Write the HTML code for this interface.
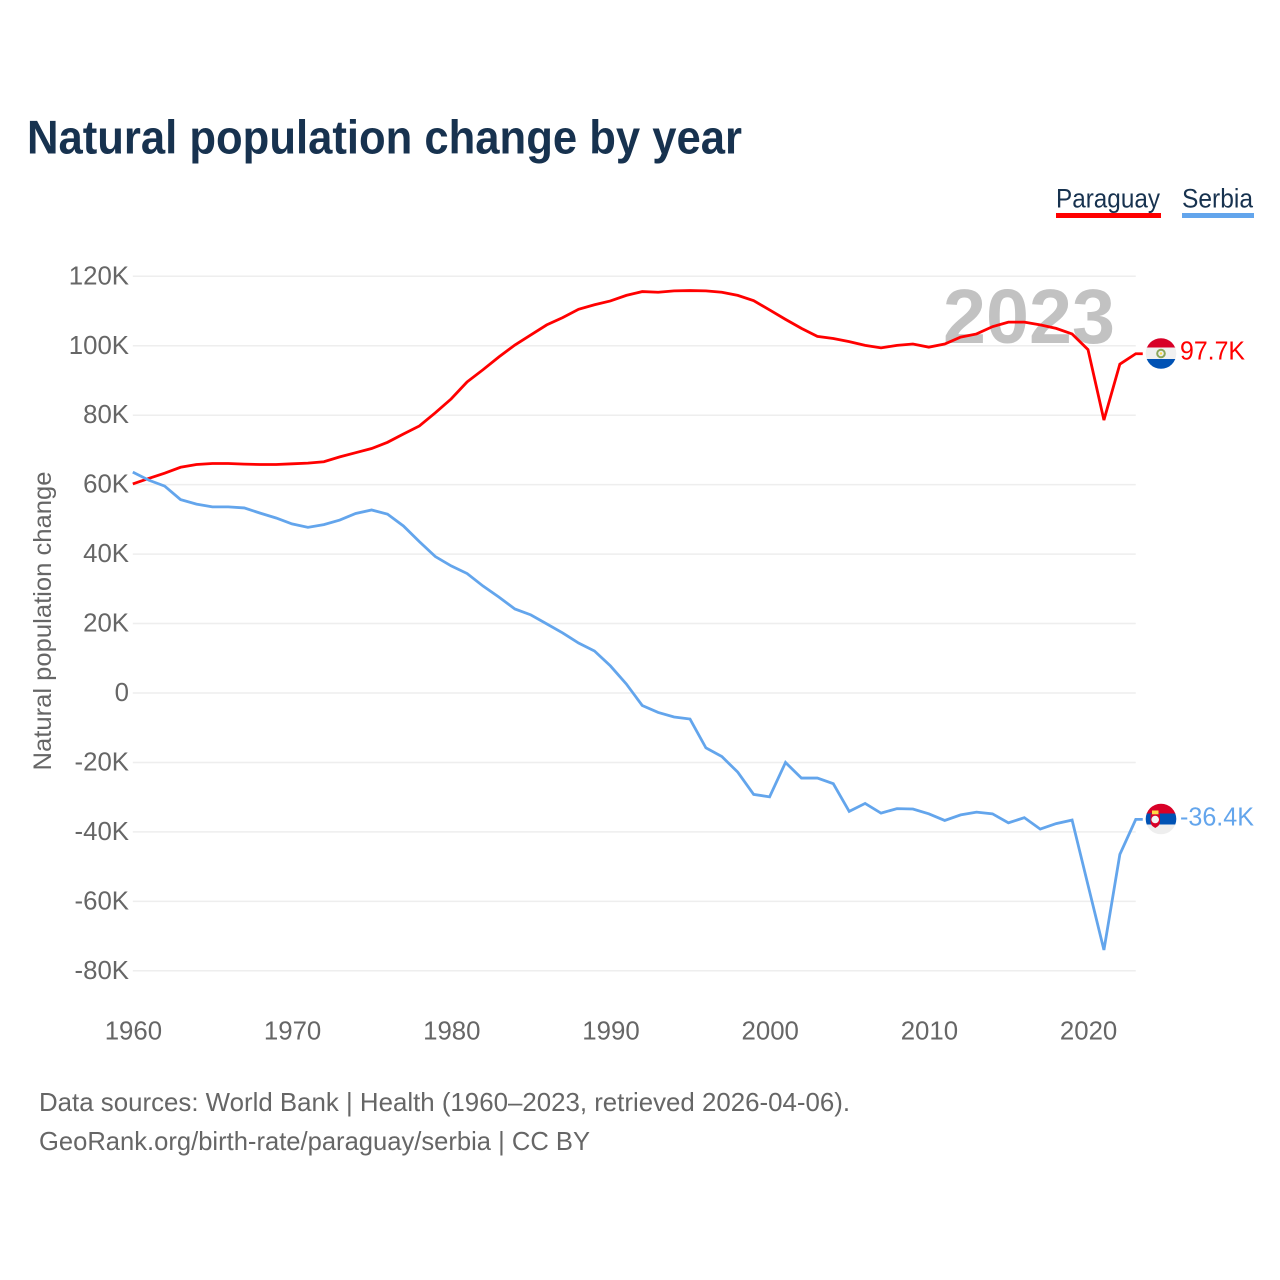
<!DOCTYPE html>
<html lang="en">
<head>
<meta charset="utf-8">
<title>Natural population change by year</title>
<style>
html,body{margin:0;padding:0;background:#fff;width:1280px;height:1280px;overflow:hidden}
svg{display:block;font-family:"Liberation Sans",sans-serif}
</style>
</head>
<body>
<svg id="chart" xmlns="http://www.w3.org/2000/svg" width="1280" height="1280" viewBox="0 0 1280 1280">
  <defs>
    <clipPath id="clip-py"><circle cx="1161" cy="353.5" r="15.3"/></clipPath>
    <clipPath id="clip-rs"><circle cx="1161" cy="819" r="15.3"/></clipPath>
  </defs>
  <text x="27" y="153.500" font-size="47" font-weight="700" fill="#17324f" textLength="715" lengthAdjust="spacingAndGlyphs">Natural population change by year</text>

  <g>
    <text x="1056" y="207.500" font-size="26.500" fill="#17324f" textLength="104" lengthAdjust="spacingAndGlyphs">Paraguay</text>
    <rect x="1056" y="213" width="105" height="5" fill="#ff0000"/>
  </g>
  <g>
    <text x="1182" y="207.500" font-size="26.500" fill="#17324f" textLength="71" lengthAdjust="spacingAndGlyphs">Serbia</text>
    <rect x="1182" y="213" width="72" height="5" fill="#63a5ec"/>
  </g>

  <g id="grid"></g>
  <text id="year" x="943" y="343" font-size="77" font-weight="700" fill="#c2c2c2" textLength="172" lengthAdjust="spacingAndGlyphs">2023</text>
  <g id="yticks"></g>
  <g id="xticks"></g>
  <text transform="translate(51 621) rotate(-90)" text-anchor="middle" font-size="25" fill="#666" textLength="299" lengthAdjust="spacingAndGlyphs">Natural population change</text>
  <g id="series"></g>

  <g clip-path="url(#clip-py)">
    <rect x="1145" y="338" width="32" height="10" fill="#d80027"/>
    <rect x="1145" y="347.500" width="32" height="12" fill="#f0f0f0"/>
    <rect x="1145" y="359" width="32" height="11" fill="#0052b4"/>
    <circle cx="1161" cy="353.500" r="3.800" fill="none" stroke="#8aa65a" stroke-width="2"/>
    <circle cx="1161" cy="353.500" r="1.200" fill="#ffda44"/>
  </g>
  <g clip-path="url(#clip-rs)">
    <rect x="1145" y="803" width="32" height="11" fill="#d80027"/>
    <rect x="1145" y="813.500" width="32" height="11" fill="#0052b4"/>
    <rect x="1145" y="824.500" width="32" height="11" fill="#eeeeee"/>
    <path d="M1150.500 814h9.500v8q0 3.500-4.750 6q-4.750-2.500-4.750-6z" fill="#d80027"/>
    <circle cx="1155.200" cy="819.500" r="3.800" fill="#f4f4f4"/>
    <rect x="1152" y="810.500" width="6.500" height="3.800" fill="#ffda44"/>
  </g>
  <text id="value-py" x="1180" y="359.500" font-size="25.500" fill="#ff0000" textLength="65" lengthAdjust="spacingAndGlyphs">97.7K</text>
  <text id="value-rs" x="1180" y="825.500" font-size="25.500" fill="#63a5ec" textLength="74" lengthAdjust="spacingAndGlyphs">-36.4K</text>

  <text x="39" y="1111" font-size="26" fill="#666" textLength="811" lengthAdjust="spacingAndGlyphs">Data sources: World Bank | Health (1960–2023, retrieved 2026-04-06).</text>
  <text x="39" y="1150" font-size="26" fill="#666" textLength="551" lengthAdjust="spacingAndGlyphs">GeoRank.org/birth-rate/paraguay/serbia | CC BY</text>
</svg>
<script>
const years = [1960,1961,1962,1963,1964,1965,1966,1967,1968,1969,1970,1971,1972,1973,1974,1975,1976,1977,1978,1979,1980,1981,1982,1983,1984,1985,1986,1987,1988,1989,1990,1991,1992,1993,1994,1995,1996,1997,1998,1999,2000,2001,2002,2003,2004,2005,2006,2007,2008,2009,2010,2011,2012,2013,2014,2015,2016,2017,2018,2019,2020,2021,2022,2023];
const paraguay = [60.2,61.8,63.3,65,65.8,66.1,66.1,65.9,65.8,65.8,66,66.2,66.6,68,69.2,70.4,72.2,74.6,76.9,80.7,84.7,89.6,93.1,96.8,100.2,103.1,106,108.1,110.5,111.8,112.9,114.5,115.6,115.4,115.8,115.9,115.8,115.4,114.5,113,110.3,107.6,105,102.7,102.1,101.2,100.1,99.4,100.1,100.5,99.6,100.5,102.5,103.4,105.5,106.8,106.8,106,105,103.4,98.9,78.6,94.7,97.7];
const serbia = [63.6,61.3,59.6,55.7,54.4,53.6,53.6,53.3,51.8,50.4,48.7,47.7,48.5,49.8,51.7,52.7,51.5,48.1,43.6,39.3,36.6,34.4,30.8,27.6,24.2,22.5,19.9,17.3,14.4,12.1,7.8,2.6,-3.6,-5.6,-6.9,-7.5,-15.8,-18.3,-22.8,-29.2,-29.9,-20,-24.5,-24.5,-26.1,-34.1,-31.8,-34.6,-33.3,-33.4,-34.8,-36.7,-35.1,-34.3,-34.8,-37.4,-35.9,-39.2,-37.6,-36.6,-55.3,-74,-46.5,-36.4];
const yTickValues = [120,100,80,60,40,20,0,-20,-40,-60,-80];
const yTickLabels = ["120K","100K","80K","60K","40K","20K","0","-20K","-40K","-60K","-80K"];
const xTickValues = [1960,1970,1980,1990,2000,2010,2020];

const NS = 'http://www.w3.org/2000/svg';
function xScale(year){ return 132.8 + (year - 1960) * 15.92; }
function yScale(v){ return 693 - v * 3.4725; }

const gridGroup = document.getElementById('grid');
const yGroup = document.getElementById('yticks');
const xGroup = document.getElementById('xticks');
const seriesGroup = document.getElementById('series');

yTickValues.forEach(function(v, i){
  const line = document.createElementNS(NS, 'line');
  
  
  line.setAttribute('x1', xScale(1960));
  line.setAttribute('x2', xScale(2023));
  line.setAttribute('y1', yScale(v));
  line.setAttribute('y2', yScale(v));
  line.setAttribute('stroke', '#eeeeee');
  line.setAttribute('stroke-width', '1.5');
  gridGroup.appendChild(line);

  const label = document.createElementNS(NS, 'text');
  
  
  label.setAttribute('x', '129');
  label.setAttribute('y', yScale(v) + 8);
  label.setAttribute('text-anchor', 'end');
  label.setAttribute('font-size', '25.8');
  label.setAttribute('fill', '#666');
  label.textContent = yTickLabels[i];
  yGroup.appendChild(label);
});

xTickValues.forEach(function(year){
  const label = document.createElementNS(NS, 'text');
  
  
  label.setAttribute('x', xScale(year) + 0.6);
  label.setAttribute('y', '1039.5');
  label.setAttribute('text-anchor', 'middle');
  label.setAttribute('font-size', '25.8');
  label.setAttribute('fill', '#666');
  label.textContent = String(year);
  xGroup.appendChild(label);
});

function seriesPath(values){
  let d = values.map(function(v, i){
    return (i ? 'L' : 'M') + xScale(years[i]).toFixed(2) + ' ' + yScale(v).toFixed(2);
  }).join('');
  d += 'H' + (xScale(years[years.length - 1]) + 7).toFixed(2);
  return d;
}

const paraguayLine = document.createElementNS(NS, 'path');


paraguayLine.setAttribute('d', seriesPath(paraguay));
paraguayLine.setAttribute('fill', 'none');
paraguayLine.setAttribute('stroke', '#ff0000');
paraguayLine.setAttribute('stroke-width', '2.8');
seriesGroup.appendChild(paraguayLine);

const serbiaLine = document.createElementNS(NS, 'path');


serbiaLine.setAttribute('d', seriesPath(serbia));
serbiaLine.setAttribute('fill', 'none');
serbiaLine.setAttribute('stroke', '#63a5ec');
serbiaLine.setAttribute('stroke-width', '2.8');
seriesGroup.appendChild(serbiaLine);
</script>
</body>
</html>
